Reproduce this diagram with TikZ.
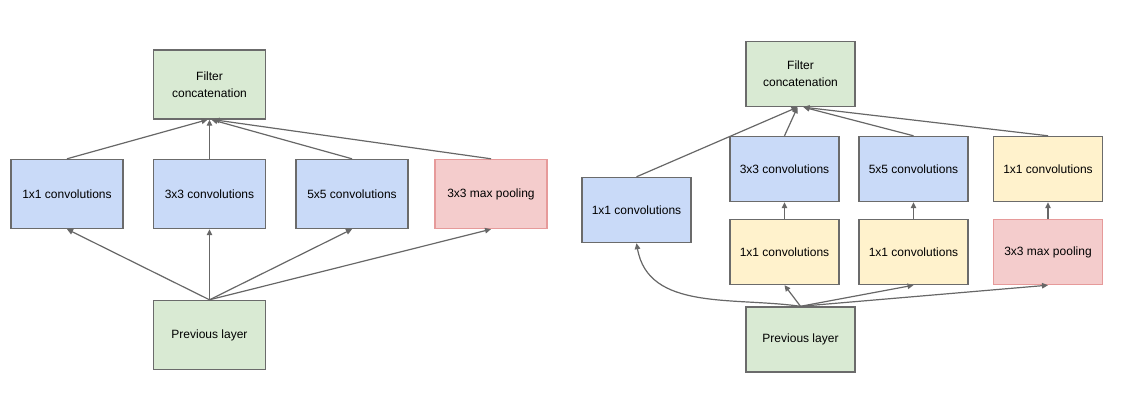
\documentclass[tikz,border=0pt]{standalone}
\usepackage{fontspec}
\setmainfont{Liberation Sans}
\usepackage{xcolor}
\usepackage{tikz}
\usetikzlibrary{arrows.meta, positioning}

\definecolor{greenfill}{HTML}{D9EAD3}
\definecolor{bluefill}{HTML}{C9DAF8}
\definecolor{redfill}{HTML}{F4CCCC}
\definecolor{yellowfill}{HTML}{FFF2CC}
\definecolor{redline}{HTML}{E69A9A}
\definecolor{boxgray}{HTML}{6B6B6B}
\definecolor{linegray}{HTML}{676767}

\begin{document}
\begin{tikzpicture}[x=1pt, y=-1pt,
  box/.style={draw=boxgray, line width=1.4pt, minimum width=112pt, minimum height=69pt, inner sep=0pt, align=center, text=black, font=\fontsize{12}{17}\selectfont},
  rbox/.style={box, minimum width=109pt, minimum height=65pt},
  line/.style={draw=linegray, line width=1.2pt, -{Triangle[length=6pt,width=5.5pt]}}]
\useasboundingbox (0,0) rectangle (1130,403);
% naive version
\node[box, fill=greenfill] (fc) at (209.5,84.5) {Filter\\concatenation};
\node[box, fill=bluefill] (c1) at (67,194) {1x1 convolutions};
\node[box, fill=bluefill] (c3) at (209.5,194) {3x3 convolutions};
\node[box, fill=bluefill] (c5) at (352,194) {5x5 convolutions};
\node[box, fill=redfill, draw=redline] (mp) at (491,194) {3x3 max pooling};
\node[box, fill=greenfill] (prev) at (209.5,335) {Previous layer};
\draw[line] (c1.north) -- ([xshift=-2pt]fc.south);
\draw[line] (c3.north) -- (fc.south);
\draw[line] (c5.north) -- ([xshift=2pt]fc.south);
\draw[line] (mp.north) -- ([xshift=4pt]fc.south);
\draw[line] (prev.north) -- (c1.south);
\draw[line] (prev.north) -- (c3.south);
\draw[line] (prev.north) -- (c5.south);
\draw[line] (prev.north) -- (mp.south);
% with dimension reductions
\node[rbox, fill=greenfill] (fc2) at (800.5,74) {Filter\\concatenation};
\node[rbox, fill=bluefill] (c1b) at (636.5,210) {1x1 convolutions};
\node[rbox, fill=bluefill] (c3b) at (784.5,169) {3x3 convolutions};
\node[rbox, fill=bluefill] (c5b) at (913.5,169) {5x5 convolutions};
\node[rbox, fill=yellowfill] (c1d) at (1048,169) {1x1 convolutions};
\node[rbox, fill=yellowfill] (r1) at (784.5,252) {1x1 convolutions};
\node[rbox, fill=yellowfill] (r2) at (913.5,252) {1x1 convolutions};
\node[rbox, fill=redfill, draw=redline] (mpb) at (1048,252) {3x3 max pooling};
\node[rbox, fill=greenfill] (prev2) at (800.5,339.5) {Previous layer};
\draw[line] (c1b.north) -- ([xshift=-3pt]fc2.south);
\draw[line] (c3b.north) -- ([xshift=-3pt]fc2.south);
\draw[line] (c5b.north) -- ([xshift=3pt]fc2.south);
\draw[line] (c1d.north) -- ([xshift=3pt]fc2.south);
\draw[line] (r1.north) -- (c3b.south);
\draw[line] (r2.north) -- (c5b.south);
\draw[line] (mpb.north) -- (c1d.south);
\draw[line] (prev2.north) to[out=172, in=-80] (c1b.south);
\draw[line] (prev2.north) -- (r1.south);
\draw[line] (prev2.north) -- (r2.south);
\draw[line] (prev2.north) -- (mpb.south);
\end{tikzpicture}
\end{document}
